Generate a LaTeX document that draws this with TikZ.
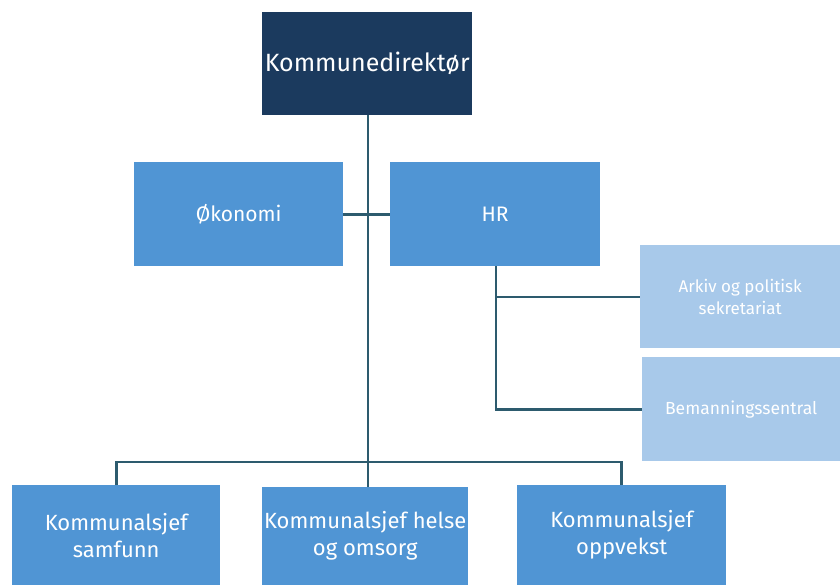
\documentclass[tikz,border=0pt]{standalone}
\usepackage{fontspec}
\setmainfont{Fira Sans}
\definecolor{navy}{HTML}{1B3A5E}
\definecolor{midblue}{HTML}{5095D4}
\definecolor{lightblue}{HTML}{A8C9EA}
\definecolor{linec}{HTML}{2D5B6E}
\begin{document}
\begin{tikzpicture}[x=1pt,y=-1pt,
  box/.style={draw=none,anchor=north west,inner sep=0pt,align=center,text=white},
  conn/.style={draw=linec,line width=2.8pt}]
\useasboundingbox (0,0) rectangle (840,585);
\node[box,fill=navy,minimum width=210pt,minimum height=103pt,font=\fontsize{25}{28}\selectfont] (kd) at (262,12) {Kommunedirektør};
\node[box,fill=midblue,minimum width=209pt,minimum height=104pt,font=\fontsize{21}{24}\selectfont] (ok) at (134,162) {Økonomi};
\node[box,fill=midblue,minimum width=210pt,minimum height=104pt,font=\fontsize{21}{24}\selectfont] (hr) at (390,162) {HR};
\node[box,fill=lightblue,minimum width=200pt,minimum height=103pt,font=\fontsize{17}{22}\selectfont] (ar) at (640,245) {Arkiv og politisk\\sekretariat};
\node[box,fill=lightblue,minimum width=198pt,minimum height=104pt,font=\fontsize{17.5}{22}\selectfont] (be) at (642,357) {Bemanningssentral};
\node[box,fill=midblue,minimum width=208pt,minimum height=100pt,font=\fontsize{22}{27}\selectfont] (ks) at (12,485) {Kommunalsjef\\samfunn};
\node[box,fill=midblue,minimum width=206pt,minimum height=98pt,font=\fontsize{22}{27}\selectfont] (kh) at (262,487) {Kommunalsjef helse\\og omsorg};
\node[box,fill=midblue,minimum width=209pt,minimum height=100pt,font=\fontsize{22}{27}\selectfont] (ko) at (517,485) {Kommunalsjef\\oppvekst};
\coordinate (jt) at (368,462);
\draw[conn] (kd.south -| jt) -- (jt);
\draw[conn] (ok.east) -- (hr.west);
\draw[conn] (ks.north) |- (jt) -| (ko.north);
\draw[conn] (jt) -- (jt |- kh.north);
\draw[conn] (496,266) |- (be.west);
\draw[conn] (496,297) -- (496,297 -| ar.west);
\end{tikzpicture}
\end{document}
